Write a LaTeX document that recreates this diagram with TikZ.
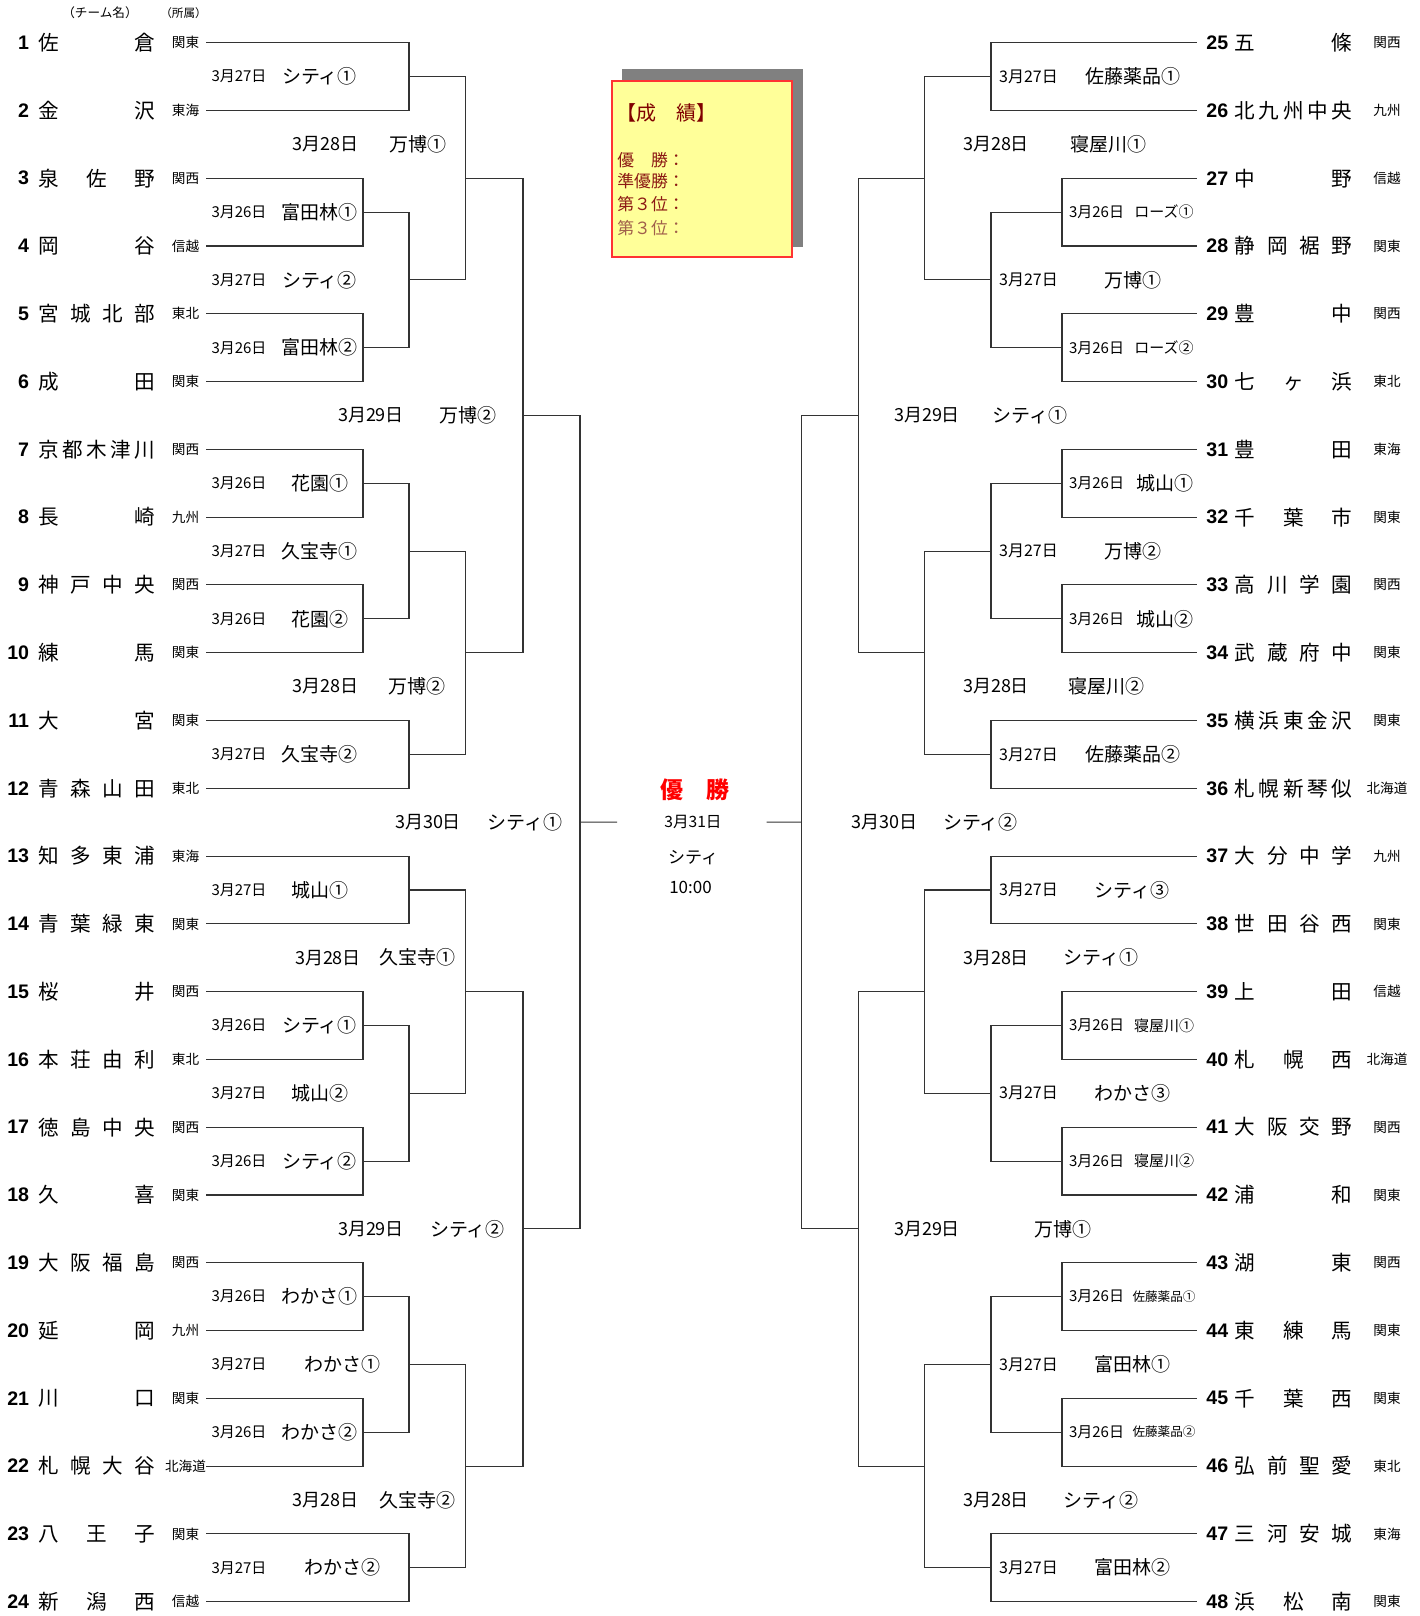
\documentclass[tikz,border=0pt]{standalone}
\usepackage{fontspec}
\setmainfont{Noto Sans CJK JP}
\newfontfamily\numfont{Liberation Sans}
\usetikzlibrary{calc}
\definecolor{boxyellow}{RGB}{255,255,153}
\definecolor{boxred}{RGB}{255,51,51}
\definecolor{boxshade}{RGB}{128,128,128}
\definecolor{boxtitle}{RGB}{128,0,0}
\definecolor{boxtext}{RGB}{140,25,20}
\definecolor{boxlight}{RGB}{160,95,75}
\def\rowy#1{42.7+(#1-1)*67.78}
\def\lteam#1#2#3{\node[numtxt,anchor=east] (n#1) at (29.5,{\rowy{#1}}) {#1};
	\node[nametxt,anchor=west] (nm#1) at (38,{\rowy{#1}}) {\makebox[58.5pt][l]{#2}};
	\node[afftxt] (af#1) at (185.5,{\rowy{#1}}) {#3};
	\coordinate (t#1) at (206,{\rowy{#1}});}
\def\rteam#1#2#3{\node[numtxt,anchor=west] (n#1) at (1206,{\rowy{#1-24}}) {#1};
	\node[nametxt,anchor=west] (nm#1) at (1234.5,{\rowy{#1-24}}) {\makebox[58.5pt][l]{#2}};
	\node[afftxt] (af#1) at (1387,{\rowy{#1-24}}) {#3};
	\coordinate (t#1) at (1196.7,{\rowy{#1-24}});}
\def\bout#1#2#3#4{\draw[bline] (#1) -- (#1 -| #3) -- (#2 -| #3) -- (#2);
	\coordinate (#4) at ($(#1 -| #3)!0.5!(#2 -| #3)$);}
\def\game#1#2#3#4#5#6#7#8{\node[#3] (d#1) at (#4,{\rowy{#2}}) {#5};
	\node[#6] (v#1) at (#7,{\rowy{#2}}) {#8};}

\begin{document}
\begin{tikzpicture}[x=0.5pt,y=-0.5pt,
	bline/.style={line width=0.55pt,black!80},
	numtxt/.style={inner sep=0,font=\numfont\bfseries\fontsize{9.8}{10}\selectfont},
	nametxt/.style={inner sep=0,font=\fontsize{10.3}{11}\selectfont},
	afftxt/.style={inner sep=0,font=\fontsize{6.8}{7}\selectfont},
	sdate/.style={inner sep=0,font=\fontsize{7.5}{8}\selectfont},
	mdate/.style={inner sep=0,font=\fontsize{8}{9}\selectfont},
	bdate/.style={inner sep=0,font=\fontsize{9}{10}\selectfont},
	venue/.style={inner sep=0,font=\fontsize{9.5}{10}\selectfont},
	svenue/.style={inner sep=0,font=\fontsize{7.5}{8}\selectfont},
	tvenue/.style={inner sep=0,font=\fontsize{6.3}{7}\selectfont}]
			%%%%% START %%%%%
			
			\useasboundingbox (0,0) rectangle (1419,1616);
			
			\coordinate (L1) at (363,0);
			\coordinate (L2) at (409,0);
			\coordinate (L3) at (465.5,0);
			\coordinate (L4) at (523,0);
			\coordinate (L5) at (580,0);
			\coordinate (R1) at (1062,0);
			\coordinate (R2) at (991,0);
			\coordinate (R3) at (924.5,0);
			\coordinate (R4) at (858.5,0);
			\coordinate (R5) at (801.5,0);
			
			\node[inner sep=0,font=\fontsize{6.3}{7}\selectfont] (hteam) at (100,13) {（チーム名）};
			\node[inner sep=0,font=\fontsize{5.8}{6}\selectfont] (haff) at (183.5,13) {（所属）};
			
			\lteam{1}{佐\hfill 倉}{関東}
			\lteam{2}{金\hfill 沢}{東海}
			\lteam{3}{泉\hfill 佐\hfill 野}{関西}
			\lteam{4}{岡\hfill 谷}{信越}
			\lteam{5}{宮\hfill 城\hfill 北\hfill 部}{東北}
			\lteam{6}{成\hfill 田}{関東}
			\lteam{7}{京\hfill 都\hfill 木\hfill 津\hfill 川}{関西}
			\lteam{8}{長\hfill 崎}{九州}
			\lteam{9}{神\hfill 戸\hfill 中\hfill 央}{関西}
			\lteam{10}{練\hfill 馬}{関東}
			\lteam{11}{大\hfill 宮}{関東}
			\lteam{12}{青\hfill 森\hfill 山\hfill 田}{東北}
			\lteam{13}{知\hfill 多\hfill 東\hfill 浦}{東海}
			\lteam{14}{青\hfill 葉\hfill 緑\hfill 東}{関東}
			\lteam{15}{桜\hfill 井}{関西}
			\lteam{16}{本\hfill 荘\hfill 由\hfill 利}{東北}
			\lteam{17}{徳\hfill 島\hfill 中\hfill 央}{関西}
			\lteam{18}{久\hfill 喜}{関東}
			\lteam{19}{大\hfill 阪\hfill 福\hfill 島}{関西}
			\lteam{20}{延\hfill 岡}{九州}
			\lteam{21}{川\hfill 口}{関東}
			\lteam{22}{札\hfill 幌\hfill 大\hfill 谷}{北海道}
			\lteam{23}{八\hfill 王\hfill 子}{関東}
			\lteam{24}{新\hfill 潟\hfill 西}{信越}
			
			\rteam{25}{五\hfill 條}{関西}
			\rteam{26}{北\hfill 九\hfill 州\hfill 中\hfill 央}{九州}
			\rteam{27}{中\hfill 野}{信越}
			\rteam{28}{静\hfill 岡\hfill 裾\hfill 野}{関東}
			\rteam{29}{豊\hfill 中}{関西}
			\rteam{30}{七\hfill ヶ\hfill 浜}{東北}
			\rteam{31}{豊\hfill 田}{東海}
			\rteam{32}{千\hfill 葉\hfill 市}{関東}
			\rteam{33}{高\hfill 川\hfill 学\hfill 園}{関西}
			\rteam{34}{武\hfill 蔵\hfill 府\hfill 中}{関東}
			\rteam{35}{横\hfill 浜\hfill 東\hfill 金\hfill 沢}{関東}
			\rteam{36}{札\hfill 幌\hfill 新\hfill 琴\hfill 似}{北海道}
			\rteam{37}{大\hfill 分\hfill 中\hfill 学}{九州}
			\rteam{38}{世\hfill 田\hfill 谷\hfill 西}{関東}
			\rteam{39}{上\hfill 田}{信越}
			\rteam{40}{札\hfill 幌\hfill 西}{北海道}
			\rteam{41}{大\hfill 阪\hfill 交\hfill 野}{関西}
			\rteam{42}{浦\hfill 和}{関東}
			\rteam{43}{湖\hfill 東}{関西}
			\rteam{44}{東\hfill 練\hfill 馬}{関東}
			\rteam{45}{千\hfill 葉\hfill 西}{関東}
			\rteam{46}{弘\hfill 前\hfill 聖\hfill 愛}{東北}
			\rteam{47}{三\hfill 河\hfill 安\hfill 城}{東海}
			\rteam{48}{浜\hfill 松\hfill 南}{関東}
			
			% left bracket
			\bout{t1}{t2}{L2}{w1}
			\bout{t3}{t4}{L1}{w3}
			\bout{t5}{t6}{L1}{w5}
			\bout{w3}{w5}{L2}{w3b}
			\bout{w1}{w3b}{L3}{wA}
			\bout{t7}{t8}{L1}{w7}
			\bout{t9}{t10}{L1}{w9}
			\bout{w7}{w9}{L2}{w7b}
			\bout{t11}{t12}{L2}{w11}
			\bout{w7b}{w11}{L3}{wB}
			\bout{wA}{wB}{L4}{wAB}
			\bout{t13}{t14}{L2}{w13}
			\bout{t15}{t16}{L1}{w15}
			\bout{t17}{t18}{L1}{w17}
			\bout{w15}{w17}{L2}{w15b}
			\bout{w13}{w15b}{L3}{wC}
			\bout{t19}{t20}{L1}{w19}
			\bout{t21}{t22}{L1}{w21}
			\bout{w19}{w21}{L2}{w19b}
			\bout{t23}{t24}{L2}{w23}
			\bout{w19b}{w23}{L3}{wD}
			\bout{wC}{wD}{L4}{wCD}
			\bout{wAB}{wCD}{L5}{wL}
			\coordinate (fL) at (617,{\rowy{12.5}});
			\draw[bline] (wL) -- (fL);
			
			% right bracket
			\bout{t25}{t26}{R2}{w25}
			\bout{t27}{t28}{R1}{w27}
			\bout{t29}{t30}{R1}{w29}
			\bout{w27}{w29}{R2}{w27b}
			\bout{w25}{w27b}{R3}{wE}
			\bout{t31}{t32}{R1}{w31}
			\bout{t33}{t34}{R1}{w33}
			\bout{w31}{w33}{R2}{w31b}
			\bout{t35}{t36}{R2}{w35}
			\bout{w31b}{w35}{R3}{wF}
			\bout{wE}{wF}{R4}{wEF}
			\bout{t37}{t38}{R2}{w37}
			\bout{t39}{t40}{R1}{w39}
			\bout{t41}{t42}{R1}{w41}
			\bout{w39}{w41}{R2}{w39b}
			\bout{w37}{w39b}{R3}{wG}
			\bout{t43}{t44}{R1}{w43}
			\bout{t45}{t46}{R1}{w45}
			\bout{w43}{w45}{R2}{w43b}
			\bout{t47}{t48}{R2}{w47}
			\bout{w43b}{w47}{R3}{wH}
			\bout{wG}{wH}{R4}{wGH}
			\bout{wEF}{wGH}{R5}{wR}
			\coordinate (fR) at (766.5,{\rowy{12.5}});
			\draw[bline] (wR) -- (fR);
			
			% left games
			\game{a1}{1.5}{sdate}{239}{3月27日}{venue}{319.5}{シティ①}
			\game{a2}{2.5}{bdate}{325.5}{3月28日}{venue}{418}{万博①}
			\game{a3}{3.5}{sdate}{239}{3月26日}{venue}{319.5}{富田林①}
			\game{a4}{4.5}{sdate}{239}{3月27日}{venue}{319.5}{シティ②}
			\game{a5}{5.5}{sdate}{239}{3月26日}{venue}{319.5}{富田林②}
			\game{a6}{6.5}{bdate}{371}{3月29日}{venue}{468}{万博②}
			\game{a7}{7.5}{sdate}{239}{3月26日}{venue}{319.5}{花園①}
			\game{a8}{8.5}{sdate}{239}{3月27日}{venue}{319.5}{久宝寺①}
			\game{a9}{9.5}{sdate}{239}{3月26日}{venue}{319.5}{花園②}
			\game{a10}{10.5}{bdate}{325.5}{3月28日}{venue}{417}{万博②}
			\game{a11}{11.5}{sdate}{239}{3月27日}{venue}{319.5}{久宝寺②}
			\game{a12}{12.5}{bdate}{428}{3月30日}{venue}{525}{シティ①}
			\game{a13}{13.5}{sdate}{239}{3月27日}{venue}{319.5}{城山①}
			\game{a14}{14.5}{bdate}{328}{3月28日}{venue}{417}{久宝寺①}
			\game{a15}{15.5}{sdate}{239}{3月26日}{venue}{319.5}{シティ①}
			\game{a16}{16.5}{sdate}{239}{3月27日}{venue}{319.5}{城山②}
			\game{a17}{17.5}{sdate}{239}{3月26日}{venue}{319.5}{シティ②}
			\game{a18}{18.5}{bdate}{371}{3月29日}{venue}{467.5}{シティ②}
			\game{a19}{19.5}{sdate}{239}{3月26日}{venue}{319.5}{わかさ①}
			\game{a20}{20.5}{sdate}{239}{3月27日}{venue}{342}{わかさ①}
			\game{a21}{21.5}{sdate}{239}{3月26日}{venue}{319.5}{わかさ②}
			\game{a22}{22.5}{bdate}{325.5}{3月28日}{venue}{417}{久宝寺②}
			\game{a23}{23.5}{sdate}{239}{3月27日}{venue}{342}{わかさ②}
			
			% right games
			\game{b1}{1.5}{mdate}{1028.5}{3月27日}{venue}{1133}{佐藤薬品①}
			\game{b2}{2.5}{bdate}{996}{3月28日}{venue}{1108}{寝屋川①}
			\game{b3}{3.5}{sdate}{1096.5}{3月26日}{svenue}{1164}{ローズ①}
			\game{b4}{4.5}{mdate}{1028.5}{3月27日}{venue}{1133}{万博①}
			\game{b5}{5.5}{sdate}{1096.5}{3月26日}{svenue}{1164}{ローズ②}
			\game{b6}{6.5}{bdate}{927}{3月29日}{venue}{1030}{シティ①}
			\game{b7}{7.5}{sdate}{1096.5}{3月26日}{venue}{1165}{城山①}
			\game{b8}{8.5}{mdate}{1028.5}{3月27日}{venue}{1133}{万博②}
			\game{b9}{9.5}{sdate}{1096.5}{3月26日}{venue}{1165}{城山②}
			\game{b10}{10.5}{bdate}{996}{3月28日}{venue}{1106}{寝屋川②}
			\game{b11}{11.5}{mdate}{1028.5}{3月27日}{venue}{1133}{佐藤薬品②}
			\game{b12}{12.5}{bdate}{884.5}{3月30日}{venue}{980.5}{シティ②}
			\game{b13}{13.5}{mdate}{1028.5}{3月27日}{venue}{1132}{シティ③}
			\game{b14}{14.5}{bdate}{996}{3月28日}{venue}{1101}{シティ①}
			\game{b15}{15.5}{sdate}{1096.5}{3月26日}{svenue}{1164}{寝屋川①}
			\game{b16}{16.5}{mdate}{1028.5}{3月27日}{venue}{1132}{わかさ③}
			\game{b17}{17.5}{sdate}{1096.5}{3月26日}{svenue}{1164}{寝屋川②}
			\game{b18}{18.5}{bdate}{927}{3月29日}{venue}{1062.5}{万博①}
			\game{b19}{19.5}{sdate}{1096.5}{3月26日}{tvenue}{1164}{佐藤薬品①}
			\game{b20}{20.5}{mdate}{1028.5}{3月27日}{venue}{1132}{富田林①}
			\game{b21}{21.5}{sdate}{1096.5}{3月26日}{tvenue}{1164}{佐藤薬品②}
			\game{b22}{22.5}{bdate}{996}{3月28日}{venue}{1101}{シティ②}
			\game{b23}{23.5}{mdate}{1028.5}{3月27日}{venue}{1132}{富田林②}
			
			% final
			\node[inner sep=0,text=red,font=\bfseries\fontsize{11.5}{12}\selectfont] (champ) at (694.5,790) {優　勝};
			\node[sdate,font=\fontsize{7.8}{8}\selectfont] (fdate) at (693,{\rowy{12.5}}) {3月31日};
			\node[inner sep=0,font=\fontsize{8.5}{9}\selectfont] (fplace) at (693,858) {シティ};
			\node[inner sep=0,font=\fontsize{8.5}{9}\selectfont] (ftime) at (690.5,887) {10:00};
			
			% results box
			\fill[boxshade] (622,69) rectangle (803,247);
			\draw[boxred,fill=boxyellow,line width=1pt] (612,81) rectangle (792,257);
			\node[inner sep=0,anchor=west,text=boxtitle,font=\fontsize{10}{11}\selectfont] (res) at (616,113) {【成　績】};
			\node[inner sep=0,anchor=west,text=boxtext,font=\fontsize{8.4}{9}\selectfont] (res1) at (617,160) {優　勝：};
			\node[inner sep=0,anchor=west,text=boxtext,font=\fontsize{8.4}{9}\selectfont] (res2) at (617,181) {準優勝：};
			\node[inner sep=0,anchor=west,text=boxtext,font=\fontsize{8.4}{9}\selectfont] (res3) at (617,204) {第３位：};
			\node[inner sep=0,anchor=west,text=boxlight,font=\fontsize{8.4}{9}\selectfont] (res4) at (617,228) {第３位：};
			
			%%%%% END %%%%%
\end{tikzpicture}
\end{document}
